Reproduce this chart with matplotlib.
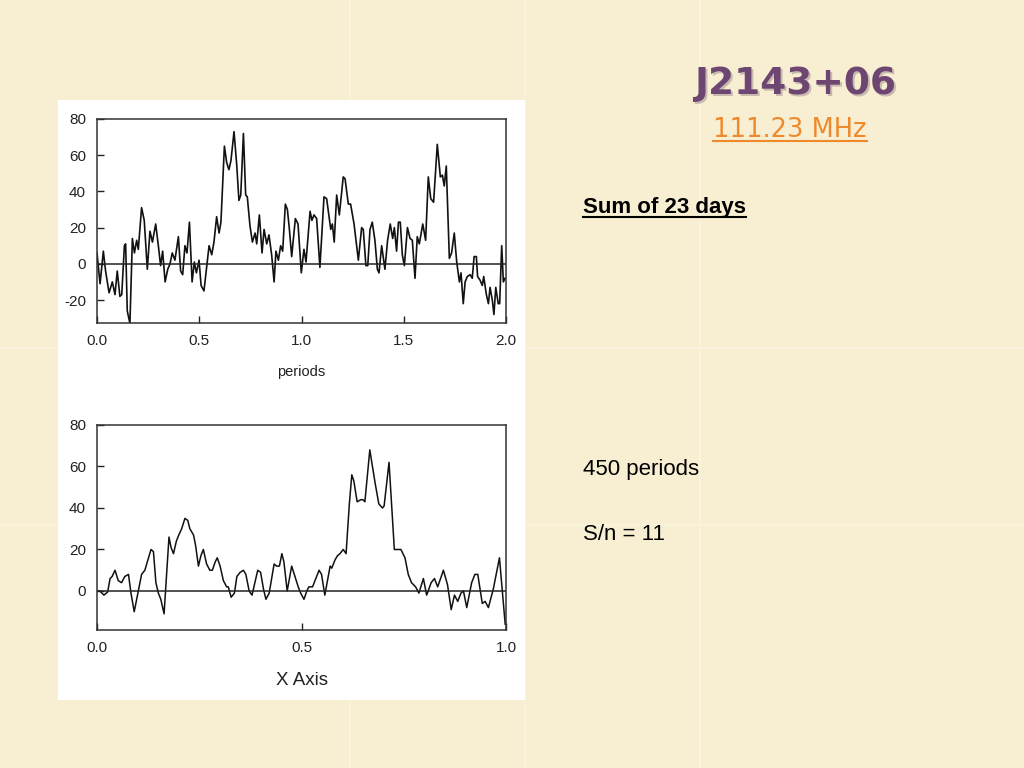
import numpy as np
import matplotlib
matplotlib.use("Agg")
import matplotlib.pyplot as plt
from matplotlib.lines import Line2D
from matplotlib.patches import Rectangle

plt.rcParams['font.family'] = ['Liberation Sans', 'DejaVu Sans']
plt.rcParams['axes.unicode_minus'] = False

# top panel: summed profile over two periods
top_x = [0.000, 0.015, 0.031, 0.042, 0.059, 0.075, 0.088, 0.099, 0.112, 0.121,
         0.134, 0.140, 0.148, 0.161, 0.173, 0.183, 0.194, 0.202, 0.218, 0.231,
         0.246, 0.259, 0.271, 0.287, 0.300, 0.311, 0.321, 0.333, 0.346, 0.357,
         0.368, 0.381, 0.398, 0.409, 0.419, 0.430, 0.440, 0.452, 0.465, 0.476,
         0.486, 0.499, 0.509, 0.523, 0.536, 0.548, 0.561, 0.572, 0.585, 0.597,
         0.606, 0.623, 0.634, 0.645, 0.655, 0.670, 0.683, 0.694, 0.703, 0.716,
         0.727, 0.735, 0.748, 0.760, 0.773, 0.781, 0.794, 0.807, 0.817, 0.830,
         0.841, 0.854, 0.866, 0.875, 0.887, 0.898, 0.908, 0.921, 0.931, 0.940,
         0.952, 0.970, 0.983, 0.999, 1.012, 1.022, 1.042, 1.051, 1.061, 1.074,
         1.090, 1.110, 1.123, 1.143, 1.151, 1.160, 1.172, 1.185, 1.204, 1.213,
         1.229, 1.240, 1.257, 1.278, 1.294, 1.302, 1.315, 1.324, 1.335, 1.346,
         1.359, 1.371, 1.379, 1.392, 1.408, 1.421, 1.434, 1.446, 1.454, 1.465,
         1.474, 1.483, 1.493, 1.503, 1.518, 1.531, 1.542, 1.555, 1.566, 1.576,
         1.593, 1.607, 1.620, 1.632, 1.646, 1.664, 1.679, 1.689, 1.698, 1.708,
         1.723, 1.734, 1.747, 1.759, 1.772, 1.780, 1.791, 1.800, 1.811, 1.825,
         1.835, 1.844, 1.855, 1.861, 1.873, 1.884, 1.891, 1.904, 1.914, 1.922,
         1.933, 1.941, 1.950, 1.962, 1.969, 1.979, 1.987, 1.995]
top_y = [6, -11, 7, -4, -16, -10, -17, -4, -18, -17,
         10, 11, -26, -33, 14, 6, 13, 8, 31, 24,
         -3, 18, 12, 22, 10, -1, 7, -10, -3, 0,
         6, 2, 15, -4, -6, 10, 6, 23, -10, 1,
         -5, 2, -12, -15, -2, 10, 5, 12, 26, 17,
         23, 65, 56, 52, 57, 73, 55, 35, 38, 72,
         38, 37, 21, 12, 17, 11, 27, 6, 19, 11,
         16, 5, -10, 7, 2, 10, 7, 33, 30, 20,
         4, 25, 22, -5, 8, 1, 29, 24, 27, 25,
         -2, 37, 36, 19, 22, 12, 38, 27, 48, 47,
         33, 33, 22, 2, 20, 19, -1, -1, 19, 23,
         13, -3, -5, 10, -3, 13, 22, 14, 20, 7,
         23, 23, 5, -1, 20, 14, 13, -8, 15, 11,
         22, 13, 48, 36, 34, 66, 48, 49, 43, 54,
         3, 6, 17, 1, -10, -5, -22, -10, -7, -6,
         -8, 4, 4, -7, -9, -12, -7, -17, -22, -13,
         -20, -28, -13, -22, -22, 10, -10, -8]

# bottom panel: one period
bot_x = [0.000, 0.007, 0.017, 0.026, 0.032, 0.037, 0.044, 0.052, 0.060, 0.068,
         0.077, 0.083, 0.091, 0.101, 0.109, 0.117, 0.132, 0.138, 0.144, 0.150,
         0.156, 0.164, 0.176, 0.181, 0.187, 0.194, 0.200, 0.207, 0.215, 0.222,
         0.227, 0.236, 0.241, 0.248, 0.254, 0.260, 0.268, 0.276, 0.282, 0.289,
         0.294, 0.301, 0.309, 0.317, 0.321, 0.328, 0.336, 0.342, 0.350, 0.358,
         0.364, 0.372, 0.379, 0.386, 0.393, 0.400, 0.407, 0.413, 0.421, 0.433,
         0.439, 0.446, 0.452, 0.457, 0.465, 0.476, 0.484, 0.492, 0.498, 0.506,
         0.513, 0.518, 0.527, 0.533, 0.543, 0.549, 0.557, 0.570, 0.574, 0.582,
         0.588, 0.594, 0.602, 0.609, 0.617, 0.623, 0.628, 0.636, 0.645, 0.650,
         0.655, 0.667, 0.680, 0.689, 0.698, 0.702, 0.714, 0.727, 0.737, 0.743,
         0.753, 0.761, 0.769, 0.779, 0.787, 0.798, 0.806, 0.817, 0.825, 0.833,
         0.847, 0.857, 0.866, 0.874, 0.882, 0.890, 0.896, 0.904, 0.916, 0.924,
         0.931, 0.942, 0.949, 0.957, 0.969, 0.984, 0.998]
bot_y = [0, 0, -2, -0.5, 6, 7, 10, 5, 4, 7,
         8, -1, -10, 0, 8, 10, 20, 19, 4, -1,
         -4, -11, 26, 21, 18, 24, 27, 30, 35, 34,
         30, 27, 22, 12, 17, 20, 13, 10, 10, 14,
         16, 12, 5, 2, 2, -3, -1, 7, 9, 10,
         8, 0, -2, 4, 10, 9, 1, -4, -1, 13,
         12, 12, 18, 14, 0, 12, 7, 2, -1, -4,
         0, 2, 2, 5, 10, 8, -2, 12, 11, 15,
         17, 18, 20, 18, 42, 56, 53, 43, 44, 44,
         43, 68, 52, 42, 40, 41, 62, 20, 20, 20,
         16, 8, 4, 2, -1, 6, -2, 4, 6, 2,
         10, 3, -9, -2, -5, -1, 0, -8, 4, 8,
         8, -6, -5, -8, 1, 16, -16]

bg = '#F8EED2'
fig = plt.figure(figsize=(10.24, 7.68), dpi=100, facecolor=bg)

# faint tile seams of the slide background
for xp in [350, 525, 700]:
    fig.add_artist(Line2D([xp / 1024] * 2, [0, 1], color='#FAF3DF', lw=1.2,
                          transform=fig.transFigure, zorder=-3))
for yp in [348, 525]:
    fig.add_artist(Line2D([0, 1], [1 - yp / 768] * 2, color='#FAF3DF', lw=1.2,
                          transform=fig.transFigure, zorder=-3))

# white picture panel
fig.add_artist(Rectangle((58 / 1024, 1 - 700 / 768), 467 / 1024, 600 / 768,
                         facecolor='white', edgecolor='none', transform=fig.transFigure, zorder=-1))


def style_axes(ax):
    ax.tick_params(direction='in', length=5, width=1, labelsize=11, pad=8, colors='#222222')
    for s in ax.spines.values():
        s.set_linewidth(1.1)
        s.set_color('#333333')
    ax.axhline(0, color='#222222', lw=1.1)


ax1 = fig.add_axes([97 / 1024, 1 - 323 / 768, 409 / 1024, 204 / 768])
ax1.plot(top_x, top_y, color='#111111', lw=1.2)
ax1.set_xlim(0, 2)
ax1.set_ylim(-32.7, 80)
ax1.set_xticks([0, 0.5, 1.0, 1.5, 2.0])
ax1.set_xticklabels(['0.0', '0.5', '1.0', '1.5', '2.0'])
ax1.set_yticks([-20, 0, 20, 40, 60, 80])
style_axes(ax1)
ax1.set_xlabel('periods', fontsize=10.5, labelpad=12, color='#222222')

ax2 = fig.add_axes([97 / 1024, 1 - 630 / 768, 409 / 1024, 205 / 768])
ax2.plot(bot_x, bot_y, color='#111111', lw=1.1)
ax2.set_xlim(0, 1)
ax2.set_ylim(-18.8, 80)
ax2.set_xticks([0, 0.5, 1.0])
ax2.set_xticklabels(['0.0', '0.5', '1.0'])
ax2.set_yticks([0, 20, 40, 60, 80])
style_axes(ax2)
ax2.set_xlabel('X Axis', fontsize=13.5, labelpad=12, color='#222222')

# slide text
fig.text(797 / 1024, 1 - 86 / 768, 'J2143+06', fontsize=27, fontweight='bold', color='#3E2A4A',
         alpha=0.25, ha='center', va='center', family='DejaVu Sans')
fig.text(795 / 1024, 1 - 84 / 768, 'J2143+06', fontsize=27, fontweight='bold', color='#6E4672',
         ha='center', va='center', family='DejaVu Sans')
t_mhz = fig.text(790 / 1024, 1 - 130 / 768, '111.23 MHz', fontsize=18.5, color='#EE8A2C',
                 ha='center', va='center', family='DejaVu Sans')
t_sum = fig.text(583 / 1024, 1 - 208 / 768, 'Sum of 23 days', fontsize=16, fontweight='bold',
                 color='black', ha='left', va='center')
fig.text(583 / 1024, 1 - 470 / 768, '450 periods', fontsize=16, color='black', ha='left', va='center')
fig.text(583 / 1024, 1 - 535 / 768, 'S/n = 11', fontsize=16, color='black', ha='left', va='center')

fig.canvas.draw()
for t, col in [(t_mhz, '#EE8A2C'), (t_sum, 'black')]:
    bb = t.get_window_extent().transformed(fig.transFigure.inverted())
    fig.add_artist(Line2D([bb.x0, bb.x1], [bb.y0 + 0.002, bb.y0 + 0.002], color=col, lw=1.5,
                          transform=fig.transFigure))

fig.savefig('out.png', dpi=100, facecolor=bg)
